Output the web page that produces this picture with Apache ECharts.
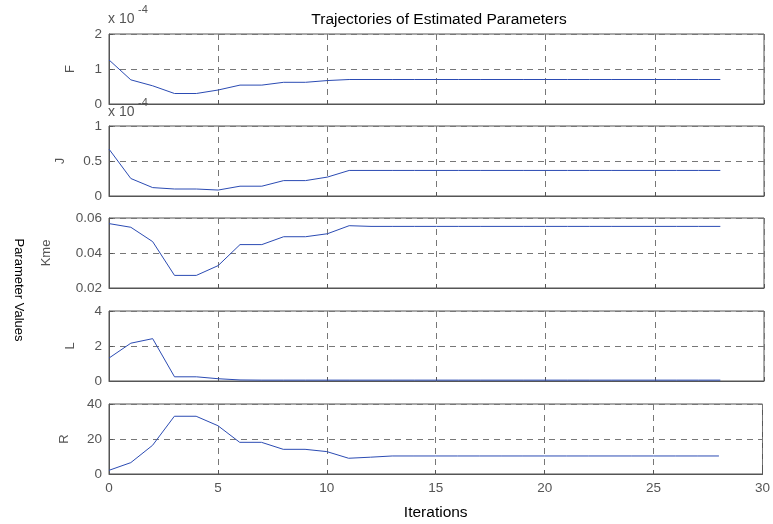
<!DOCTYPE html>
<html>
<head>
<meta charset="utf-8">
<script src="https://cdn.jsdelivr.net/npm/echarts@6/dist/echarts.min.js"></script>
<style>
html,body{margin:0;padding:0;background:#fff;}
#main{width:773px;height:524px;}
</style>
</head>
<body>
<div id="main"></div>
<script>
// iteration index (x)
var iters = [0,1,2,3,4,5,6,7,8,9,10,11,12,13,14,15,16,17,18,19,20,21,22,23,24,25,26,27,28];

// F (x 1e-4)
var valF = [1.26,0.69,0.52,0.30,0.30,0.40,0.54,0.54,0.62,0.62,0.67,0.70,0.70,0.70,0.70,0.70,0.70,0.70,0.70,0.70,0.70,0.70,0.70,0.70,0.70,0.70,0.70,0.70,0.70];
// J (x 1e-4)
var valJ = [0.67,0.25,0.12,0.10,0.10,0.085,0.14,0.14,0.22,0.22,0.27,0.365,0.365,0.365,0.365,0.365,0.365,0.365,0.365,0.365,0.365,0.365,0.365,0.365,0.365,0.365,0.365,0.365,0.365];
// Kme
var valKme = [0.0568,0.0547,0.0465,0.0272,0.0272,0.0328,0.0448,0.0448,0.0493,0.0493,0.0510,0.0556,0.0552,0.0552,0.0552,0.0552,0.0552,0.0552,0.0552,0.0552,0.0552,0.0552,0.0552,0.0552,0.0552,0.0552,0.0552,0.0552,0.0552];
// L
var valL = [1.31,2.16,2.42,0.24,0.24,0.13,0.06,0.05,0.05,0.05,0.05,0.05,0.05,0.05,0.05,0.05,0.05,0.05,0.05,0.05,0.05,0.05,0.05,0.05,0.05,0.05,0.05,0.05,0.05];
// R
var valR = [2.1,6.5,16.4,33.0,33.0,27.6,18.1,18.1,14.1,14.1,12.8,9.0,9.6,10.3,10.3,10.3,10.3,10.3,10.3,10.3,10.3,10.3,10.3,10.3,10.3,10.3,10.3,10.3,10.3];

var names = ['F','J','Kme','L','R'];
var allVals = [valF,valJ,valKme,valL,valR];
var yMin = [0,0,0.02,0,0];
var yMax = [2,1,0.06,4,40];
var yStep = [1,0.5,0.02,2,20];

var gridTops = [34,126,218,311,404];
var gridH = 70;
var nameGaps = [32,42,56,32,38];

var myChart = echarts.init(document.getElementById('main'));

var grids = [], xAxes = [], yAxes = [], series = [];
for (var i = 0; i < 5; i++) {
    grids.push({
        left: 109, right: 9, top: gridTops[i], height: gridH,
        show: true, borderColor: '#555', borderWidth: 1, backgroundColor: 'transparent'
    });
    xAxes.push({
        type: 'value', gridIndex: i, min: 0, max: 30, interval: 5,
        axisLine: {show: true, lineStyle: {color: '#555'}},
        axisTick: {show: true, inside: true, length: 4, lineStyle: {color: '#555'}},
        axisLabel: {show: i == 4, color: '#555', fontSize: 13.5, fontFamily: 'Liberation Sans', margin: 7},
        splitLine: {show: true, lineStyle: {color: '#777', type: [6,5], width: 1}},
        name: i == 4 ? 'Iterations' : '',
        nameLocation: 'middle', nameGap: 31,
        nameTextStyle: {color: '#000', fontSize: 15.5, fontFamily: 'Liberation Sans'}
    });
    yAxes.push({
        type: 'value', gridIndex: i, min: yMin[i], max: yMax[i], interval: yStep[i],
        axisLine: {show: true, lineStyle: {color: '#555'}},
        axisTick: {show: true, inside: true, length: 4, lineStyle: {color: '#555'}},
        axisLabel: {color: '#555', fontSize: 13.5, fontFamily: 'Liberation Sans', margin: 7},
        splitLine: {show: true, lineStyle: {color: '#777', type: [6,5], width: 1}},
        name: names[i], nameLocation: 'middle', nameRotate: 90,
        nameGap: nameGaps[i],
        nameTextStyle: {color: '#555', fontSize: 13, fontFamily: 'Liberation Sans'}
    });
    var pts = [];
    for (var k = 0; k < iters.length; k++) pts.push([iters[k], allVals[i][k]]);
    series.push({
        type: 'line', xAxisIndex: i, yAxisIndex: i, data: pts,
        showSymbol: false, animation: false,
        lineStyle: {color: '#2b4bb3', width: 1}
    });
}

var option = {
    backgroundColor: '#fff',
    animation: false,
    title: {
        text: 'Trajectories of Estimated Parameters',
        left: 434, top: 7, textAlign: 'center',
        textStyle: {color: '#000', fontSize: 15.5, fontWeight: 'normal', fontFamily: 'Liberation Sans'}
    },
    grid: grids,
    xAxis: xAxes,
    yAxis: yAxes,
    series: series,
    graphic: [
        {type: 'text', left: 108, top: 12, style: {text: 'x 10', fill: '#555', font: '14px "Liberation Sans"'}},
        {type: 'text', left: 138, top: 4, style: {text: '-4', fill: '#555', font: '11px "Liberation Sans"'}},
        {type: 'text', left: 108, top: 105, style: {text: 'x 10', fill: '#555', font: '14px "Liberation Sans"'}},
        {type: 'text', left: 138, top: 97, style: {text: '-4', fill: '#555', font: '11px "Liberation Sans"'}},
        {type: 'text', x: 19, y: 290, rotation: -Math.PI / 2,
         style: {text: 'Parameter Values', fill: '#000', font: '13px "Liberation Sans"', align: 'center', verticalAlign: 'middle'}}
    ]
};
myChart.setOption(option);
</script>
</body>
</html>
